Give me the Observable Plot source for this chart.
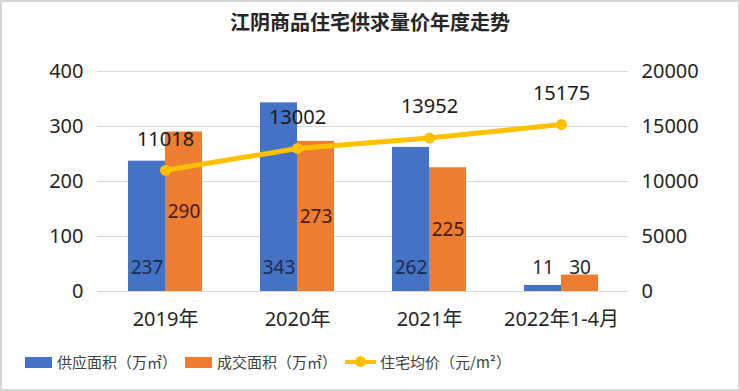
<!DOCTYPE html>
<html>
<head>
<meta charset="utf-8">
<script src="https://cdn.jsdelivr.net/npm/d3@7"></script>
<script src="https://cdn.jsdelivr.net/npm/@observablehq/plot@0.6"></script>
<style>
  html, body { margin: 0; padding: 0; background: #fff; }
  #wrap { position: relative; width: 740px; height: 391px; overflow: hidden; background: #fff;
          font-family: 'Noto Sans', 'Noto Sans CJK SC', sans-serif; color: #262626; }
  #frame { position: absolute; left: 0; top: 0; right: 0; bottom: 0; border: 2px solid #d6d6d6; pointer-events: none; box-sizing: border-box; }
  #title { position: absolute; left: 0; top: 8px; width: 740px; text-align: center; font-family: 'Noto Sans CJK SC', sans-serif;
           font-weight: bold; font-size: 20px; line-height: 28px; color: #262626; }
  #chart { position: absolute; left: 0; top: 40px; }
  .lg { position: absolute; top: 351px; font-family: 'Noto Sans CJK SC', sans-serif; font-size: 15px; line-height: 22px; color: #404040; }
  .sw { position: absolute; }
</style>
</head>
<body>
<div id="wrap">
  <div id="title">江阴商品住宅供求量价年度走势</div>
  <div id="chart"></div>
  <div id="legend"></div>
  <div id="frame"></div>
</div>
<script>
const categories = ["2019年", "2020年", "2021年", "2022年1-4月"];
const supply = [237, 343, 262, 11];      // 供应面积（万㎡）
const deal = [290, 273, 225, 30];        // 成交面积（万㎡）
const price = [11018, 13002, 13952, 15175]; // 住宅均价（元/m²）
const leftTicks = [0, 100, 200, 300, 400];
const rightTicks = [0, 5000, 10000, 15000, 20000];
const seriesNames = ["供应面积（万㎡）", "成交面积（万㎡）", "住宅均价（元/m²）"];
const colors = ["#4472C4", "#ED7D31", "#FFC000"];

const k = rightTicks[rightTicks.length - 1] / leftTicks[leftTicks.length - 1];
const rows = categories.map((c, i) => ({cat: c, supply: supply[i], deal: deal[i], price: price[i]}));

const chart = Plot.plot({
  width: 740,
  height: 296,
  marginTop: 31,
  marginBottom: 45,
  marginLeft: 97,
  marginRight: 112,
  style: {fontFamily: "'Noto Sans', 'Noto Sans CJK SC', sans-serif", fontSize: "20px", color: "#262626", background: "transparent", overflow: "visible"},
  x: {domain: categories, paddingInner: 0.44, paddingOuter: 0.22, label: null},
  y: {domain: [0, 400], label: null},
  marks: [
    Plot.gridY(leftTicks, {stroke: "#d9d9d9", strokeOpacity: 1, strokeWidth: 1}),
    Plot.axisY(leftTicks, {anchor: "left", tickSize: 0, tickPadding: 14, label: null, fill: "#262626"}),
    Plot.axisY(rightTicks.map(v => v / k), {anchor: "right", tickSize: 0, tickPadding: 13, label: null, fill: "#262626",
      tickFormat: d => String(Math.round(d * k))}),
    Plot.axisX({tickSize: 0, tickPadding: 20, label: null, fill: "#262626"}),
    Plot.barY(rows, {x: "cat", y: "supply", fill: colors[0], insetRight: 37}),
    Plot.barY(rows, {x: "cat", y: "deal", fill: colors[1], insetLeft: 37}),
    Plot.text(rows, {x: "cat", y: () => 0, text: d => String(d.supply), dx: -18.5, dy: -24,
      fill: d => d.supply >= 100 ? "#1c2b4c" : "#262626", fontSize: 19}),
    Plot.text(rows.filter(d => d.deal >= 100), {x: "cat", y: d => d.deal / 2, text: d => String(d.deal), dx: 18.5, fill: "#4a1a0a", fontSize: 19}),
    Plot.text(rows.filter(d => d.deal < 100), {x: "cat", y: "deal", text: d => String(d.deal), dx: 18.5, dy: -7, fill: "#262626", fontSize: 19}),
    Plot.line(rows, {x: "cat", y: d => d.price / k, stroke: colors[2], strokeWidth: 5}),
    Plot.dot(rows, {x: "cat", y: d => d.price / k, r: 5.5, fill: colors[2], stroke: "none"}),
    Plot.text(rows, {x: "cat", y: d => d.price / k, text: d => String(d.price), dy: -31, fill: "#1a1a1a", fontSize: 20})
  ]
});
document.getElementById("chart").appendChild(chart);

// Legend
const legend = document.getElementById("legend");
const lx = [25, 185, 345];
seriesNames.forEach((name, i) => {
  if (i < 2) {
    const sw = document.createElement("div");
    sw.className = "sw";
    sw.style.cssText = `left:${lx[i]}px;top:357px;width:27px;height:11px;background:${colors[i]};`;
    legend.appendChild(sw);
  } else {
    const ln = document.createElement("div");
    ln.className = "sw";
    ln.style.cssText = `left:${lx[i]}px;top:360px;width:31px;height:4px;background:${colors[i]};`;
    legend.appendChild(ln);
    const dt = document.createElement("div");
    dt.className = "sw";
    dt.style.cssText = `left:${lx[i] + 10}px;top:356px;width:11px;height:11px;border-radius:50%;background:${colors[i]};`;
    legend.appendChild(dt);
  }
  const t = document.createElement("div");
  t.className = "lg";
  t.style.left = (lx[i] + (i < 2 ? 32 : 35)) + "px";
  t.textContent = name;
  legend.appendChild(t);
});
</script>
</body>
</html>
